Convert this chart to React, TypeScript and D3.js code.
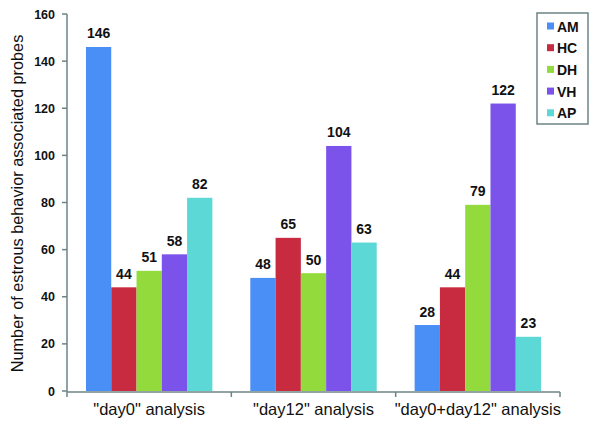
import React from "react";
import * as d3 from "d3";

const categories = ['"day0" analysis', '"day12" analysis', '"day0+day12" analysis'];
const seriesNames = ["AM", "HC", "DH", "VH", "AP"];
const seriesColors = ["#4a8ff5", "#c82a40", "#93db3c", "#7b52ea", "#5cd8d6"];
const AM = [146, 48, 28];
const HC = [44, 65, 44];
const DH = [51, 50, 79];
const VH = [58, 104, 122];
const AP = [82, 63, 23];
const yTicks = [0, 20, 40, 60, 80, 100, 120, 140, 160];
const yTitle = "Number of estrous behavior associated probes";

const seriesValues = [AM, HC, DH, VH, AP];

export default function App() {
  const W = 600, H = 424;
  const left = 67, right = 560, top = 14, bottom = 391;
  const axisColor = "#6e8484";
  const font = "Arial, 'Liberation Sans', sans-serif";

  const x0 = d3.scaleBand<string>().domain(categories).range([left, right]).paddingInner(0).paddingOuter(0);
  const inner = d3.scaleBand<string>().domain(seriesNames).range([0, x0.bandwidth()]).paddingOuter(0.75).paddingInner(0);
  const y = d3.scaleLinear().domain([0, 160]).range([bottom, top]);

  const catTicks = [left, ...categories.map((c) => (x0(c) as number) + x0.bandwidth())];

  return (
    <div style={{ position: "absolute", left: 0, top: 0 }}>
      <svg width={W} height={H} style={{ display: "block", background: "#fff" }} fontFamily={font}>
        {categories.map((c, ci) =>
          seriesNames.map((s, si) => {
            const v = seriesValues[si][ci];
            const bx = (x0(c) as number) + (inner(s) as number);
            const bw = inner.bandwidth();
            return (
              <g key={c + s}>
                <rect x={bx} y={y(v)} width={bw} height={y(0) - y(v)} fill={seriesColors[si]} />
                <text x={bx + bw / 2} y={y(v) - 8.5} textAnchor="middle" fontSize={14} fontWeight="bold" fill="#111">
                  {v}
                </text>
              </g>
            );
          })
        )}
        {/* y axis */}
        <line x1={left} x2={left} y1={top} y2={bottom + 1} stroke={axisColor} strokeWidth={1.5} />
        {yTicks.map((t) => (
          <g key={t}>
            <line x1={left - 5} x2={left} y1={y(t)} y2={y(t)} stroke={axisColor} strokeWidth={1.5} />
            <text x={left - 12} y={y(t) + 4.5} textAnchor="end" fontSize={12.5} fontWeight="bold" fill="#111">
              {t}
            </text>
          </g>
        ))}
        {/* x axis */}
        <line x1={left} x2={right} y1={bottom + 1} y2={bottom + 1} stroke={axisColor} strokeWidth={1.5} />
        {catTicks.map((tx, i) => (
          <line key={i} x1={tx} x2={tx} y1={bottom + 1} y2={bottom + 6} stroke={axisColor} strokeWidth={1.5} />
        ))}
        {categories.map((c) => (
          <text key={c} x={(x0(c) as number) + x0.bandwidth() / 2} y={415} textAnchor="middle" fontSize={16.5} fill="#111">
            {c}
          </text>
        ))}
        <text transform={`translate(23, ${(top + bottom) / 2 + 1}) rotate(-90)`} textAnchor="middle" fontSize={16.3} fill="#111">
          {yTitle}
        </text>
        {/* legend */}
        <rect x={537} y={13} width={51} height={111} fill="#fff" stroke={axisColor} strokeWidth={1.5} />
        {seriesNames.map((s, i) => (
          <g key={s}>
            <rect x={547} y={22.5 + i * 21.7} width={7} height={7} fill={seriesColors[i]} />
            <text x={557} y={31.5 + i * 21.7} fontSize={14} fontWeight="bold" fill="#111">
              {s}
            </text>
          </g>
        ))}
      </svg>
    </div>
  );
}
